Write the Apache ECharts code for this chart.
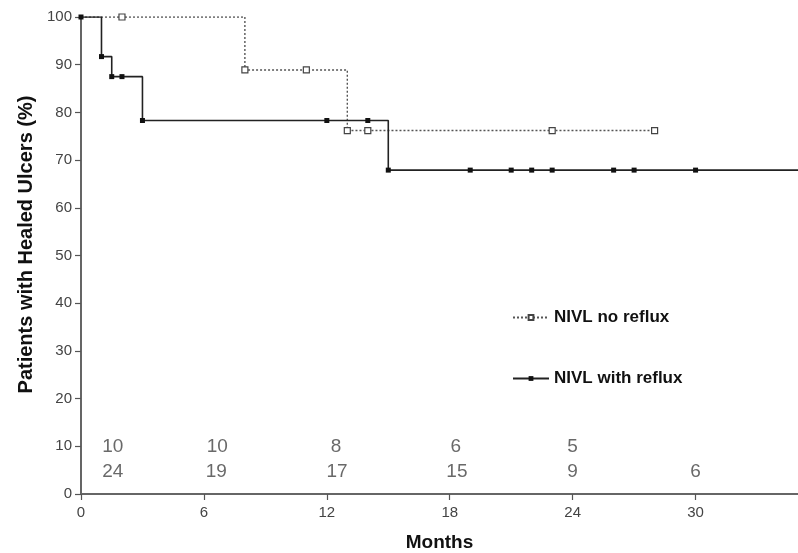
<!DOCTYPE html>
<html>
<head>
<meta charset="utf-8">
<script src="https://cdn.jsdelivr.net/npm/echarts@6/dist/echarts.min.js"></script>
<style>
html,body{margin:0;padding:0;background:#fff;}
#chart{width:798px;height:553px;}
</style>
</head>
<body>
<div id="chart"></div>
<script>
// Kaplan-Meier data: [month, % healed]
var noRefluxMonths = [0, 2, 8, 11, 13, 14, 23, 28];
var noRefluxValues = [100, 100, 88.9, 88.9, 76.2, 76.2, 76.2, 76.2];
var noRefluxMarked = [false, true, true, true, true, true, true, true];

var refluxMonths = [0, 1, 1.5, 2, 3, 12, 14, 15, 19, 21, 22, 23, 26, 27, 30, 35];
var refluxValues = [100, 91.7, 87.5, 87.5, 78.3, 78.3, 78.3, 67.9, 67.9, 67.9, 67.9, 67.9, 67.9, 67.9, 67.9, 67.9];
var refluxMarked = [true, true, true, true, true, true, true, true, true, true, true, true, true, true, true, false];

// Numbers at risk
var riskMonthsNoReflux = [1.55, 6.65, 12.45, 18.3, 24];
var riskNoReflux = [10, 10, 8, 6, 5];
var riskMonthsReflux = [1.55, 6.6, 12.5, 18.35, 24, 30];
var riskReflux = [24, 19, 17, 15, 9, 6];

var xTicks = [0, 6, 12, 18, 24, 30];

function build(months, vals, marked) {
  return months.map(function (m, i) {
    var d = { value: [m, vals[i]] };
    if (!marked[i]) d.symbol = 'none';
    return d;
  });
}
function riskData(months, counts, row) {
  return months.map(function (m, i) { return { value: [m, row, counts[i]] }; });
}

var FONT = 'Liberation Sans, Arial, sans-serif';
var chart = echarts.init(document.getElementById('chart'));
var axisFont = { fontFamily: FONT, fontSize: 15, color: '#444' };
chart.setOption({
  animation: false,
  backgroundColor: '#fff',
  grid: { left: 81, top: 17, right: 0, bottom: 59, containLabel: false, outerBoundsMode: 'none' },
  xAxis: {
    type: 'value', min: 0, max: 35, interval: 6,
    name: 'Months', nameLocation: 'middle', nameGap: 39,
    nameTextStyle: { fontFamily: FONT, fontSize: 19, fontWeight: 'bold', color: '#111' },
    axisLine: { lineStyle: { color: '#666', width: 1.8 } },
    axisTick: { show: true, length: 6, lineStyle: { color: '#555', width: 1.2 }, customValues: xTicks },
    axisLabel: Object.assign({ margin: 11, customValues: xTicks }, axisFont),
    splitLine: { show: false }
  },
  yAxis: {
    type: 'value', min: 0, max: 100, interval: 10,
    name: 'Patients with Healed Ulcers (%)', nameLocation: 'middle', nameGap: 40,
    nameTextStyle: { fontFamily: FONT, fontSize: 20, fontWeight: 'bold', color: '#111', padding: [0, 0, 0, 22] },
    axisLine: { show: true, lineStyle: { color: '#555', width: 1.8 } },
    axisTick: { show: true, length: 6, lineStyle: { color: '#555', width: 1.2 } },
    axisLabel: Object.assign({ margin: 9 }, axisFont),
    splitLine: { show: false }
  },
  legend: {
    orient: 'vertical', left: 512, top: 309, itemGap: 44, padding: 0,
    itemWidth: 36, itemHeight: 6,
    data: ['NIVL no reflux', 'NIVL with reflux'],
    textStyle: { fontFamily: FONT, fontSize: 17, fontWeight: 'bold', color: '#111' }
  },
  series: [
    {
      name: 'NIVL no reflux', type: 'line', step: 'end',
      data: build(noRefluxMonths, noRefluxValues, noRefluxMarked),
      symbol: 'rect', symbolSize: 6,
      itemStyle: { color: '#fff', borderColor: '#444', borderWidth: 1.2 },
      lineStyle: { color: '#555', width: 1.4, type: [2, 2] },
      z: 2
    },
    {
      name: 'NIVL with reflux', type: 'line', step: 'end',
      data: build(refluxMonths, refluxValues, refluxMarked),
      symbol: 'rect', symbolSize: 5,
      itemStyle: { color: '#111', borderColor: '#111', borderWidth: 0 },
      lineStyle: { color: '#222', width: 1.6 },
      z: 3
    },
    {
      type: 'scatter', symbolSize: 0, silent: true,
      data: riskData(riskMonthsNoReflux, riskNoReflux, 10.0).concat(riskData(riskMonthsReflux, riskReflux, 4.6)),
      label: {
        show: true, position: 'inside',
        formatter: function (p) { return p.value[2]; },
        fontFamily: FONT, fontSize: 19, color: '#444'
      }
    }
  ]
});
</script>
</body>
</html>
